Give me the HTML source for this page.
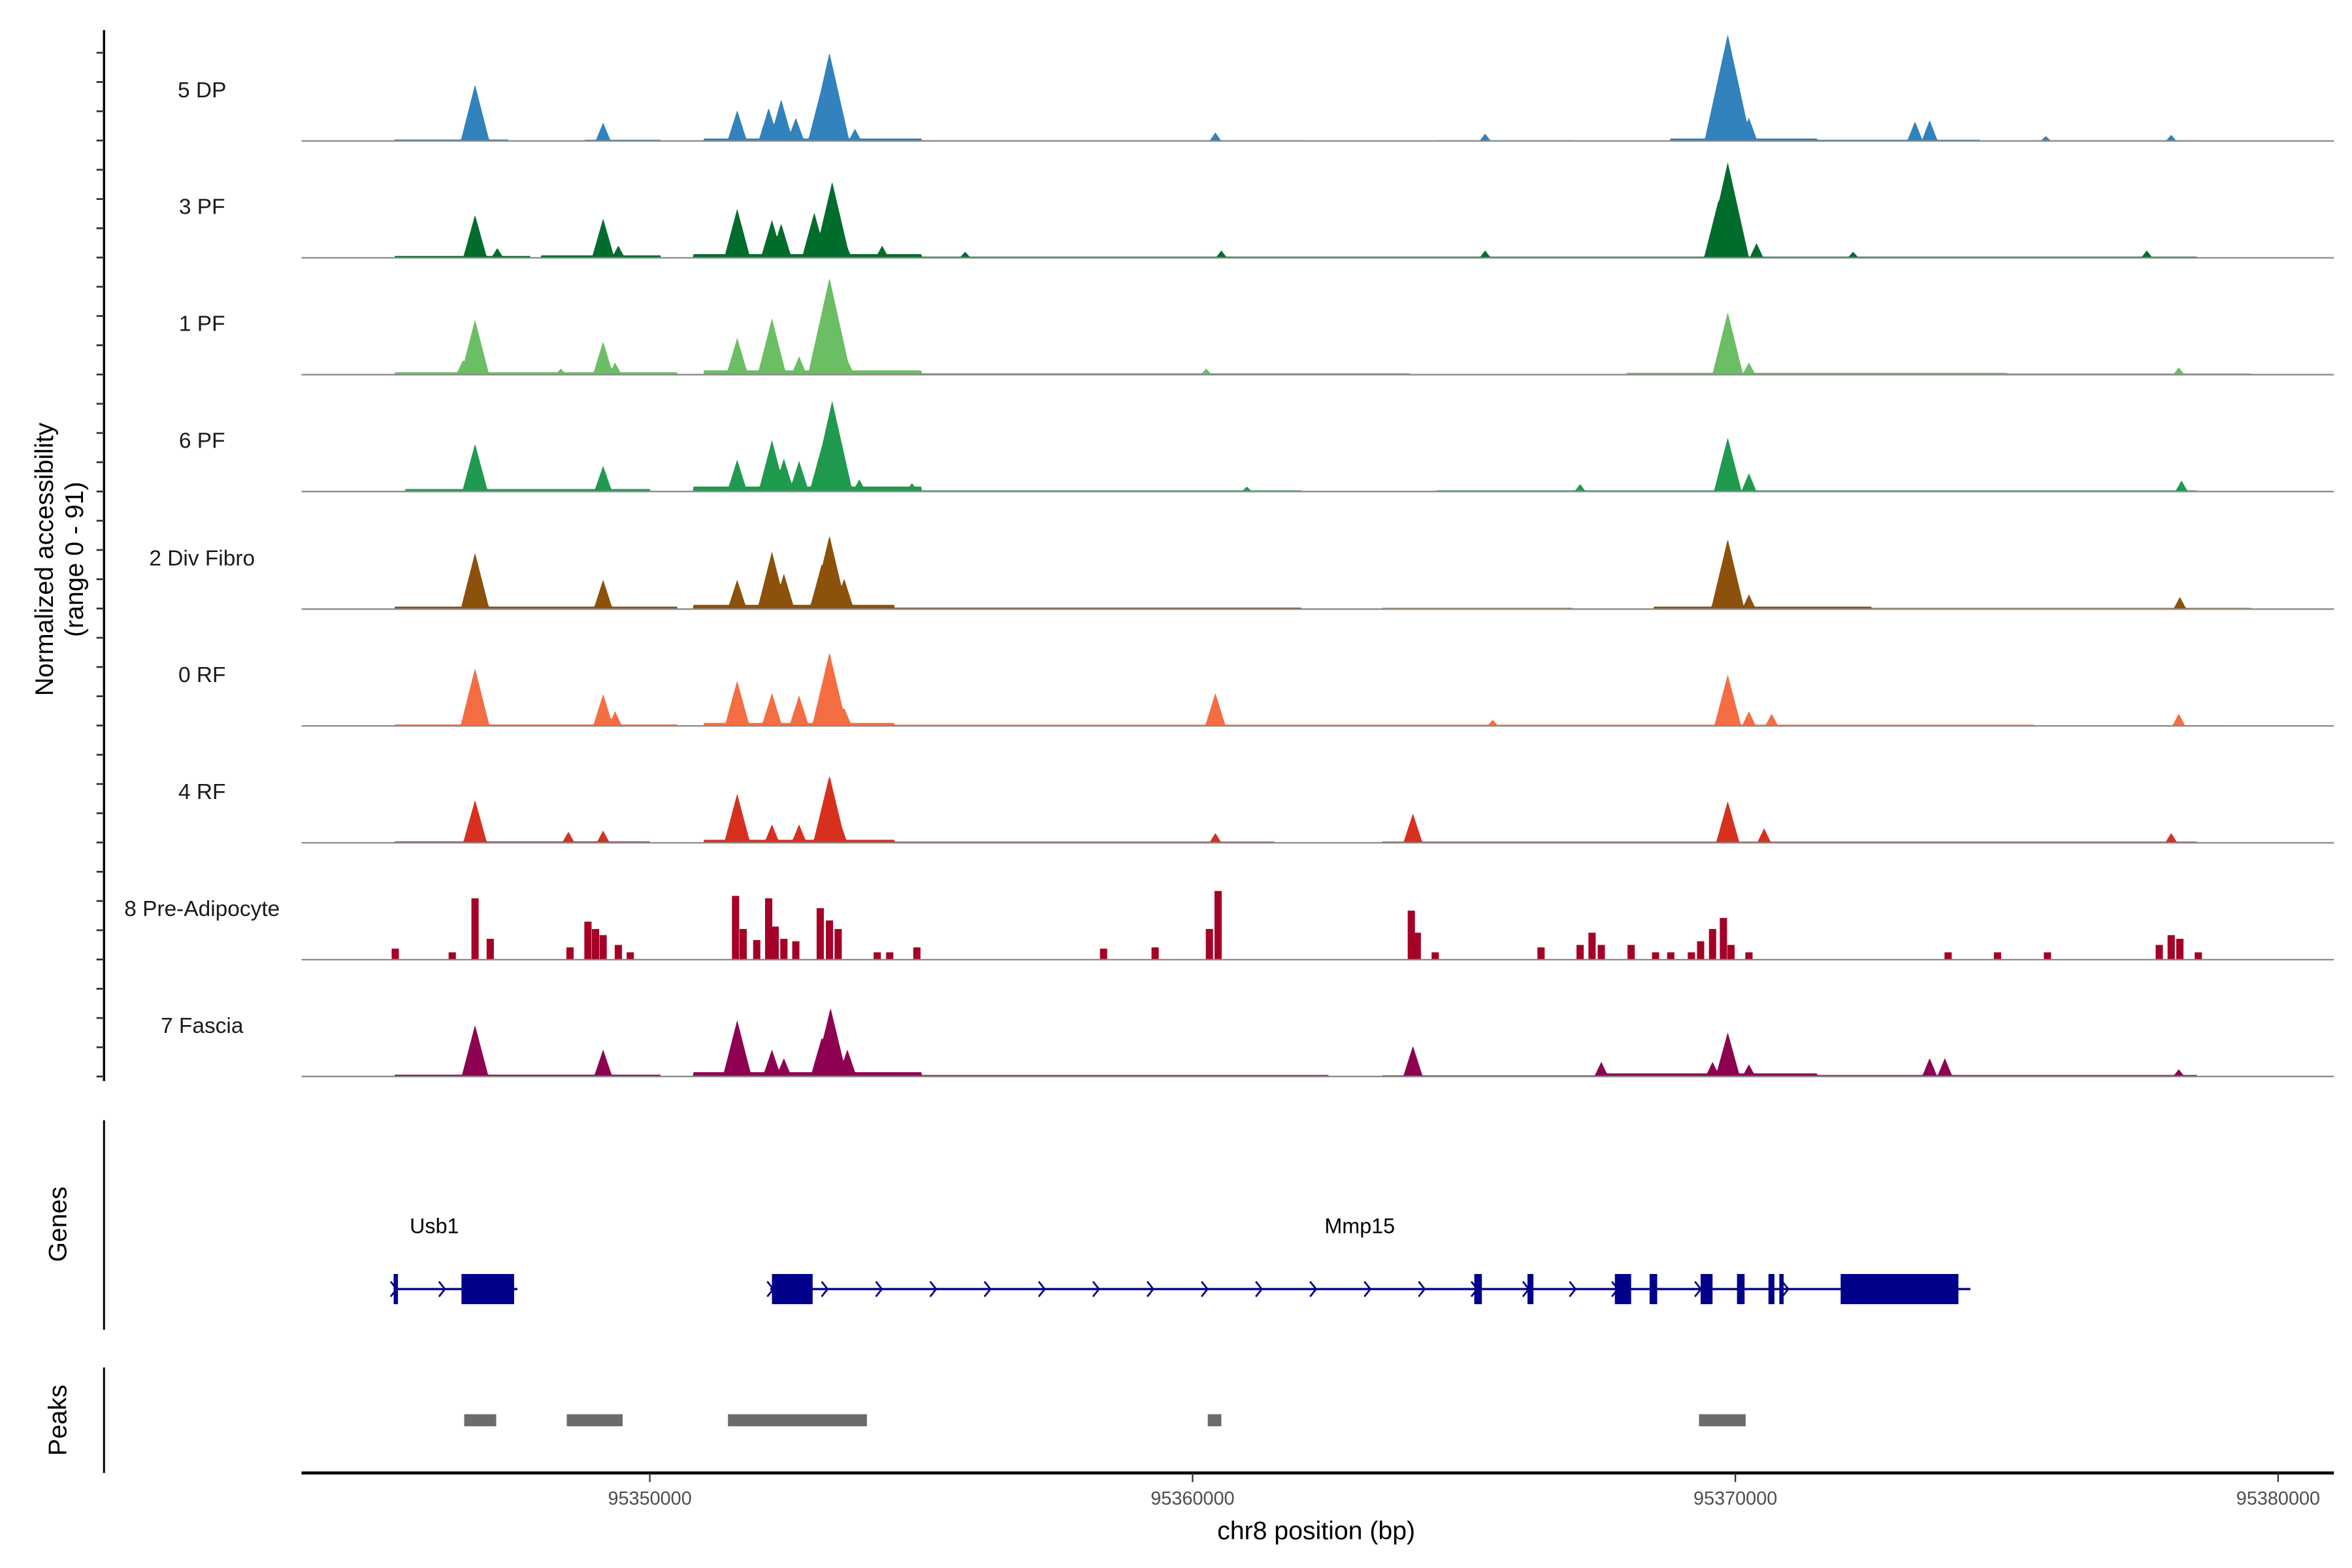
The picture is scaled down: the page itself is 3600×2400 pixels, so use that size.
<!DOCTYPE html>
<html><head><meta charset="utf-8"><style>
html,body{margin:0;padding:0;background:#fff;}
svg{display:block;font-family:"Liberation Sans",Arial,sans-serif;}
</style></head><body>
<svg id="chart" width="3600" height="2400" viewBox="0 0 1560 1040" xmlns="http://www.w3.org/2000/svg">
<rect width="1560" height="1040" fill="#fff"/>
<g id="tracks"></g>
<g id="genes"></g>
<g id="peaks"></g>
<g id="axes"></g>
</svg>
<script>
// ---- data ----
const trackNames = ["5 DP","3 PF","1 PF","6 PF","2 Div Fibro","0 RF","4 RF","8 Pre-Adipocyte","7 Fascia"];
const trackColors = ["#3182bd","#006d2c","#6cbe64","#1f9a4f","#8c510a","#f46d43","#d7301f","#a50026","#8e0152"];
const xTicks = [95350000,95360000,95370000,95380000];
const yRangeMax = 91;
// peaks: [position kb, value]
const peaks5DP = [[95346.78,46],[95349.14,15],[95351.61,25],[95352.19,27],[95352.42,34],[95352.69,19],[95353.17,44],[95353.31,72],[95353.78,10],[95360.42,7],[95365.39,6],[95369.64,16],[95369.86,87],[95370.25,19],[95373.31,16],[95373.58,17],[95375.72,4],[95378.03,5]];
const peaks3PF = [[95346.78,35],[95347.19,8],[95349.14,32],[95349.42,10],[95351.61,40],[95352.25,31],[95352.42,28],[95353.03,37],[95353.36,62],[95353.58,15],[95354.28,10],[95355.81,5],[95360.53,6],[95365.39,6],[95369.69,47],[95369.86,78],[95370.39,12],[95372.17,5],[95377.58,6]];
const peaks1PF = [[95346.56,12],[95346.78,45],[95348.36,5],[95349.14,27],[95349.36,10],[95351.61,30],[95352.25,46],[95352.75,15],[95353.31,79],[95353.64,12],[95360.25,5],[95369.86,51],[95370.25,10],[95378.17,6]];
const peaks6PF = [[95346.78,39],[95349.14,21],[95351.61,26],[95352.25,42],[95352.47,27],[95352.75,25],[95353.17,37],[95353.36,74],[95353.86,10],[95354.83,7],[95361.0,4],[95367.14,6],[95369.86,44],[95370.25,15],[95378.22,9]];
const peaksDivFibro = [[95346.78,46],[95349.14,24],[95351.61,24],[95352.25,47],[95352.47,29],[95353.17,37],[95353.31,60],[95353.58,25],[95369.86,57],[95370.25,12],[95378.19,10]];
const peaks0RF = [[95346.78,47],[95349.14,26],[95349.36,12],[95351.61,37],[95352.25,27],[95352.75,25],[95353.31,60],[95353.58,15],[95360.42,27],[95365.53,5],[95369.86,42],[95370.25,12],[95370.67,10],[95378.17,10]];
const peaks4RF = [[95346.78,35],[95348.5,9],[95349.14,10],[95351.61,40],[95352.25,15],[95352.75,15],[95353.31,55],[95353.47,22],[95360.42,8],[95364.06,24],[95369.86,34],[95370.53,12],[95378.03,8]];
const peaksFascia = [[95346.78,42],[95349.14,22],[95351.61,46],[95352.25,22],[95352.47,15],[95353.17,32],[95353.33,56],[95353.64,22],[95364.06,25],[95367.53,12],[95369.58,12],[95369.86,36],[95370.25,10],[95373.58,15],[95373.86,15],[95378.17,6]];
// Pre-Adipocyte: discrete bins [position kb, value]
const binsPreAdipo = [[95345.31,9],[95346.36,6],[95346.78,50],[95347.06,17],[95348.53,10],[95348.86,31],[95349.0,25],[95349.14,20],[95349.42,12],[95349.64,6],[95351.58,52],[95351.72,25],[95351.97,16],[95352.19,50],[95352.31,27],[95352.47,17],[95352.69,15],[95353.14,42],[95353.31,32],[95353.47,25],[95354.19,6],[95354.42,6],[95354.92,10],[95358.36,9],[95359.31,10],[95360.31,25],[95360.47,56],[95364.03,40],[95364.14,22],[95364.47,6],[95366.42,10],[95367.14,12],[95367.36,22],[95367.53,12],[95368.08,12],[95368.53,6],[95368.81,6],[95369.19,6],[95369.36,15],[95369.58,25],[95369.78,34],[95369.92,12],[95370.25,6],[95373.92,6],[95374.83,6],[95375.75,6],[95377.81,12],[95378.03,20],[95378.19,17],[95378.53,6]];
// low background levels per track: [start kb, end kb, value]
const bgLevels = [
 [[95345.3,95347.4,1.2],[95348.8,95350.2,1],[95351.0,95355.0,2],[95355.0,95362.0,0.7],[95364.5,95367.0,0.7],[95368.8,95371.5,2],[95371.5,95374.5,1],[95375.5,95378.5,0.7]],
 [[95345.3,95347.8,1.5],[95348.0,95350.2,2],[95350.8,95355.0,3],[95355.0,95374.0,1],[95374.0,95378.5,1]],
 [[95345.3,95350.5,2],[95351.0,95355.0,3.5],[95355.0,95364.0,1.2],[95368.0,95375.0,1.5],[95375.0,95379.5,1]],
 [[95345.5,95350.0,2],[95350.8,95355.0,4],[95355.0,95362.0,1],[95364.5,95375.0,1],[95375.0,95378.5,1]],
 [[95345.3,95350.5,2],[95350.8,95354.5,3.5],[95354.5,95362.0,1.2],[95363.5,95367.0,1],[95368.5,95372.5,2],[95372.5,95379.5,1]],
 [[95345.3,95350.5,1.2],[95351.0,95354.5,2.5],[95354.5,95375.5,1],[95377.0,95379.0,0.7]],
 [[95345.3,95350.0,1.2],[95351.0,95354.5,2.5],[95354.5,95361.5,1],[95363.5,95375.0,1],[95375.0,95378.5,1]],
 [],
 [[95345.3,95350.2,1.5],[95350.8,95355.0,3.5],[95355.0,95362.5,1.2],[95363.5,95367.5,1],[95367.5,95371.5,2.5],[95371.5,95378.5,1.2]]
];
const allPeaks = [peaks5DP,peaks3PF,peaks1PF,peaks6PF,peaksDivFibro,peaks0RF,peaks4RF,binsPreAdipo,peaksFascia];
// genes: exons [start kb, end kb]
const geneNames = ["Usb1","Mmp15"];
const geneSpans = [[95345.28,95347.56],[95352.22,95374.33]];
const geneLabelPos = [95346.03,95363.08];
const exons = [[95345.28,95345.36],[95346.53,95347.5],[95352.25,95353.0],[95365.19,95365.33],[95366.17,95366.28],[95367.78,95368.08],[95368.42,95368.56],[95369.36,95369.58],[95370.03,95370.17],[95370.61,95370.72],[95370.81,95370.89],[95371.94,95374.11]];
const arrowPos = [95345.28,95346.17,95352.22,95353.22,95354.22,95355.22,95356.22,95357.22,95358.22,95359.22,95360.22,95361.22,95362.22,95363.22,95364.22,95365.19,95366.14,95367.0,95367.78,95369.31,95370.92];
const peakRegions = [[95346.58,95347.17],[95348.47,95349.5],[95351.44,95354.0],[95360.28,95360.53],[95369.33,95370.19]];

// ---- scales ----
const X0 = 200, X1 = 1548;
function xs(kb){ return 431 + (kb - 95350) * 36; }
const baselines = [93.5,171,248.5,326,404,481.5,559,636.5,714];
const pxPerUnit = 74 / yRangeMax;
function ys(v, i){ return baselines[i] - v * pxPerUnit; }

const NS = "http://www.w3.org/2000/svg";
function mk(tag, attrs, parent){ const e=document.createElementNS(NS,tag); for(const k in attrs) e.setAttribute(k,attrs[k]); parent.appendChild(e); return e; }

const gT = document.getElementById('tracks');
for(let i=0;i<trackNames.length;i++){
  const col = trackColors[i];
  const g = mk('g',{},gT);
  
  
  const lbl = mk('text',{x:134,y:baselines[i]-29,'text-anchor':'middle','font-size':'14.5',fill:'#1a1a1a'},g);
  lbl.textContent = trackNames[i];
  
  
  if(i===7){
    for(const [p,v] of allPeaks[i]){
      const r = mk('rect',{x:xs(p)-2.4,y:ys(v,i),width:4.8,height:v*pxPerUnit,fill:col},g);
      
      
    }
  } else {
    const step = 0.5; let d = `M${X0},${baselines[i]}`;
    for(let x=X0; x<=X1; x+=step){
      const kb = 95350 + (x-431)/36;
      let v = 0;
      for(const [a,b,l] of bgLevels[i]) if(kb>=a && kb<=b) v=Math.max(v,l);
      for(const [p,h] of allPeaks[i]){
        const w = 0.08 + h*0.004;
        const dd = Math.abs(kb-p);
        if(dd<w) v = Math.max(v, h*(1-dd/w));
      }
      d += `L${x},${ys(v,i).toFixed(2)}`;
    }
    d += `L${X1},${baselines[i]}Z`;
    const path = mk('path',{d:d,fill:col,stroke:'none'},g);
    
    
  }
  const bl = mk('line',{x1:X0,x2:X1,y1:baselines[i],y2:baselines[i],stroke:'#8a8a8a','stroke-width':1},g);
  
  
}

// genes
const gG = document.getElementById('genes');
const gy = 855;
for(let k=0;k<geneNames.length;k++){
  const ln = mk('line',{x1:xs(geneSpans[k][0]),x2:xs(geneSpans[k][1]),y1:gy,y2:gy,stroke:'#00008b','stroke-width':1.5},gG);
  
  
  const t = mk('text',{x:xs(geneLabelPos[k]),y:818,'text-anchor':'middle','font-size':'14',fill:'#000'},gG);
  t.textContent = geneNames[k];
  
  
}
for(const [a,b] of exons){
  const r = mk('rect',{x:xs(a),y:845,width:Math.max(2,xs(b)-xs(a)),height:20,fill:'#00008b'},gG);
  
  
}
for(const p of arrowPos){
  const x = xs(p);
  const a = mk('path',{d:`M${x-2},${gy-5}L${x+2},${gy}L${x-2},${gy+5}`,fill:'none',stroke:'#00008b','stroke-width':1.2},gG);
  
  
}

// peaks
const gP = document.getElementById('peaks');
for(const [a,b] of peakRegions){
  const r = mk('rect',{x:xs(a),y:938,width:xs(b)-xs(a),height:8,fill:'#6b6b6b'},gP);
  
  
}

// axes
const gA = document.getElementById('axes');
function line(x1,y1,x2,y2,w,name,col){ const l=mk('line',{x1,y1,x2,y2,stroke:col||'#000','stroke-width':w},gA);   return l; }
line(69,20,69,717,1.5,'y-axis-line');
for(let t=0;t<36;t++){
  const y = 714 - t*19.4;
  if(y<30) break;
  line(64,y,69,y,1.2,'y-axis-tick','#333');
}
line(69,743,69,882,1.3,'genes-axis-line');
line(69,907,69,977,1.3,'peaks-axis-line');
line(X0,977,X1,977,2,'x-axis-line');
for(const t of xTicks){
  const x = xs(t/1000);
  line(x,977,x,983,1,'x-axis-tick','#333');
  const tx = mk('text',{x:x,y:998,'text-anchor':'middle','font-size':'12.5',fill:'#4d4d4d'},gA);
  tx.textContent = String(t);
  
  
}
function txt(s,x,y,size,name,rot){ const t=mk('text',{x:x,y:y,'text-anchor':'middle','font-size':size,fill:'#000'},gA); if(rot) t.setAttribute('transform',`rotate(-90 ${x} ${y})`); t.textContent=s;   return t; }
txt('chr8 position (bp)',873,1021,17,'x-axis-title');
txt('Normalized accessibility',35,371,17,'y-axis-title',true);
txt('(range 0 - 91)',55,371,17,'y-axis-subtitle',true);
txt('Genes',44,812,17,'genes-axis-title',true);
txt('Peaks',44,942,17,'peaks-axis-title',true);
</script>
</body></html>
